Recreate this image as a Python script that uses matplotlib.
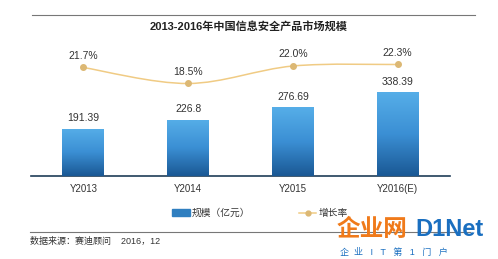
import numpy as np
import matplotlib.pyplot as plt
from matplotlib.patches import Rectangle, PathPatch
from matplotlib.path import Path
from matplotlib.lines import Line2D
from matplotlib.colors import LinearSegmentedColormap

plt.rcParams['font.family'] = ['Liberation Sans', 'Noto Sans CJK SC']

years = ['Y2013', 'Y2014', 'Y2015', 'Y2016(E)']
scale = [191.39, 226.8, 276.69, 338.39]
growth = [21.7, 18.5, 22.0, 22.3]

W, H = 498, 259
fig = plt.figure(figsize=(W / 100, H / 100), dpi=100)

def fx(px):
    return px / W

def fy(py):
    return 1 - py / H

ax = fig.add_axes([fx(31), fy(176), fx(450) - fx(31), fy(40) - fy(176)])
x = np.arange(len(years))
bars = ax.bar(x, scale, width=0.4, color='#2f7fc0', zorder=2)

# vertical gradient on each bar
grad = np.linspace(0, 1, 256).reshape(-1, 1)
cmap = LinearSegmentedColormap.from_list('b', ['#1a5894', '#3b8fd4', '#56aee8'])
for b in bars:
    x0, y0 = b.get_x(), b.get_y()
    im = ax.imshow(grad, cmap=cmap, origin='lower', aspect='auto',
                   extent=[x0, x0 + b.get_width(), y0, y0 + b.get_height()], zorder=3)
    im.set_clip_path(b)

for xi, v in zip(x, scale):
    ax.text(xi, v + 22, f'{v:g}', ha='center', va='bottom', fontsize=7.5, color='#333333')

ax.set_xlim(-0.5, 3.5)
ax.set_ylim(0, 548)
ax.set_xticks(x)
ax.set_xticklabels(years, fontsize=7, color='#333333')
ax.tick_params(axis='x', length=0, pad=6)
ax.set_yticks([])
for s in ['top', 'right', 'left']:
    ax.spines[s].set_visible(False)
ax.spines['bottom'].set_color('#1f3d58')
ax.spines['bottom'].set_linewidth(1.2)
ax.patch.set_alpha(0)

ax2 = ax.twinx()
ax2.set_ylim(0, 27.2)

# smoothed growth line drawn as a bezier path through the points
pts = np.column_stack([x, growth]).astype(float)
verts = [tuple(pts[0])]
codes = [Path.MOVETO]
for i in range(len(pts) - 1):
    p0 = pts[i - 1] if i > 0 else pts[i]
    p1, p2 = pts[i], pts[i + 1]
    p3 = pts[i + 2] if i + 2 < len(pts) else pts[i + 1]
    c1 = p1 + (p2 - p0) / 6
    c2 = p2 - (p3 - p1) / 6
    verts += [tuple(c1), tuple(c2), tuple(p2)]
    codes += [Path.CURVE4] * 3
ax2.add_patch(PathPatch(Path(verts, codes), fill=False, edgecolor='#f0cb84', lw=1.1, zorder=4))
ax2.plot(x, growth, lw=0, marker='o', ms=4, mfc='#dcb874', mec='#dcb874', zorder=5)

for xi, v in zip(x, growth):
    ax2.text(xi, v + 1.3, f'{v:.1f}%', ha='center', va='bottom', fontsize=7.5, color='#333333')
ax2.set_yticks([])
for s in ['top', 'right', 'left', 'bottom']:
    ax2.spines[s].set_visible(False)

# title and rules
fig.add_artist(Line2D([fx(32), fx(475)], [fy(15), fy(15)], color='#777777', lw=0.8))
fig.text(0.5, fy(26), '2013-2016年中国信息安全产品市场规模', ha='center', va='center',
         fontsize=8, fontweight='bold', color='#222222')
fig.add_artist(Line2D([fx(30), fx(470)], [fy(232), fy(232)], color='#777777', lw=0.8))
fig.text(fx(30), fy(241), '数据来源：赛迪顾问    2016，12', ha='left', va='center',
         fontsize=6.5, color='#333333')

# legend
fig.add_artist(Rectangle((fx(172), fy(216)), fx(190) - fx(172), fy(209) - fy(216),
                         transform=fig.transFigure, color='#2f7fc0'))
fig.text(fx(192), fy(213), '规模（亿元）', ha='left', va='center', fontsize=7, color='#333333')
fig.add_artist(Line2D([fx(299), fx(316)], [fy(213), fy(213)], color='#f0cb84', lw=1.1))
fig.add_artist(Line2D([fx(307.5)], [fy(213)], color='#dcb874', marker='o', ms=3.5, lw=0))
fig.text(fx(319), fy(213), '增长率', ha='left', va='center', fontsize=7, color='#333333')

# watermark
fig.text(fx(337), fy(230), '企业网', ha='left', va='center', fontsize=17,
         fontweight='bold', color='#f07a1a')
fig.text(fx(415), fy(230), 'D1Net', ha='left', va='center', fontsize=17,
         fontweight='bold', color='#1a6fc0')
fig.text(fx(340), fy(252), '企  业   I   T   第   1   门   户', ha='left', va='center',
         fontsize=6.5, color='#1a6fc0')

fig.savefig('out.png', dpi=100)
